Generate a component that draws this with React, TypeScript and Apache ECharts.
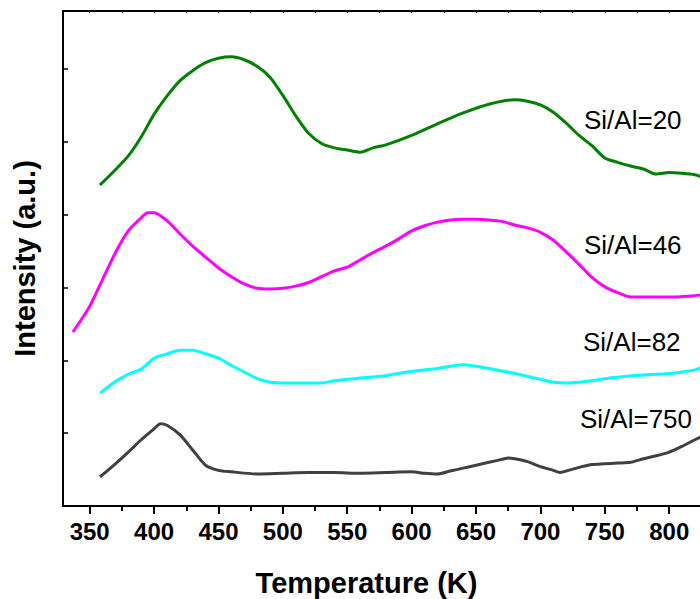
import React, { useEffect, useRef } from "react";
import * as echarts from "echarts";

// Temperature (K) sample points and intensity (a.u.) for each sample
const tempSi20 = [358, 370, 380, 390, 400, 410, 420, 430, 440, 450, 460, 470, 480, 490, 500, 510, 520, 530, 540, 550, 560, 570, 580, 600, 620, 640, 660, 680, 690, 700, 710, 720, 730, 740, 750, 760, 770, 780, 790, 800, 810, 820, 825];
const intSi20 = [4.41, 4.62, 4.81, 5.07, 5.38, 5.63, 5.84, 5.98, 6.09, 6.15, 6.17, 6.13, 6.04, 5.89, 5.64, 5.36, 5.12, 4.98, 4.92, 4.89, 4.86, 4.92, 4.96, 5.09, 5.25, 5.40, 5.52, 5.58, 5.56, 5.51, 5.41, 5.26, 5.09, 4.95, 4.78, 4.72, 4.67, 4.63, 4.56, 4.58, 4.57, 4.55, 4.52];

const tempSi46 = [337, 345, 350, 360, 370, 380, 390, 395, 400, 410, 420, 430, 440, 450, 460, 470, 480, 490, 500, 510, 520, 530, 540, 550, 560, 570, 580, 590, 600, 610, 620, 630, 640, 650, 660, 670, 680, 690, 700, 710, 720, 730, 740, 750, 760, 770, 780, 800, 820, 825];
const intSi46 = [2.39, 2.60, 2.74, 3.11, 3.48, 3.78, 3.96, 4.03, 4.03, 3.92, 3.74, 3.57, 3.42, 3.27, 3.15, 3.05, 2.99, 2.98, 2.99, 3.02, 3.07, 3.15, 3.23, 3.28, 3.38, 3.48, 3.57, 3.67, 3.78, 3.85, 3.90, 3.93, 3.94, 3.94, 3.93, 3.91, 3.86, 3.82, 3.76, 3.65, 3.49, 3.32, 3.14, 3.01, 2.93, 2.87, 2.87, 2.87, 2.89, 2.90];

const tempSi82 = [358, 370, 380, 390, 400, 410, 420, 430, 440, 450, 460, 470, 480, 490, 500, 520, 530, 540, 550, 560, 580, 600, 620, 640, 650, 660, 680, 700, 710, 720, 730, 740, 750, 760, 770, 780, 800, 810, 820, 825];
const intSi82 = [1.55, 1.71, 1.81, 1.88, 2.03, 2.09, 2.14, 2.14, 2.09, 2.03, 1.93, 1.84, 1.75, 1.70, 1.69, 1.69, 1.69, 1.72, 1.74, 1.76, 1.79, 1.85, 1.89, 1.94, 1.92, 1.89, 1.82, 1.74, 1.70, 1.69, 1.70, 1.72, 1.75, 1.77, 1.79, 1.80, 1.82, 1.84, 1.87, 1.90];

const tempSi750 = [358, 370, 380, 390, 400, 405, 410, 420, 430, 440, 450, 460, 480, 500, 520, 540, 560, 580, 600, 610, 620, 630, 640, 650, 660, 670, 675, 680, 690, 700, 710, 715, 720, 730, 740, 750, 760, 770, 780, 790, 800, 810, 820, 825];
const intSi750 = [0.40, 0.58, 0.74, 0.91, 1.06, 1.13, 1.11, 0.98, 0.77, 0.56, 0.49, 0.47, 0.44, 0.45, 0.46, 0.46, 0.45, 0.46, 0.47, 0.45, 0.44, 0.48, 0.52, 0.56, 0.60, 0.64, 0.66, 0.65, 0.61, 0.54, 0.49, 0.46, 0.48, 0.53, 0.57, 0.58, 0.59, 0.60, 0.65, 0.69, 0.74, 0.82, 0.91, 0.95];

const seriesNames = ["Si/Al=20", "Si/Al=46", "Si/Al=82", "Si/Al=750"];
const seriesColors = ["#008000", "#ff00ff", "#00ffff", "#404040"];
const majorTicks = [350, 400, 450, 500, 550, 600, 650, 700, 750, 800];
const minorTicks = [375, 425, 475, 525, 575, 625, 675, 725, 775, 825];
const topTicks = [350, 375, 400, 425, 450, 475, 500, 525, 550, 575, 600, 625, 650, 675, 700, 725, 750, 775, 800];

const FONT = "'Liberation Sans', Arial, sans-serif";

function zip(xs: number[], ys: number[]) {
  return xs.map((x, i) => [x, ys[i]]);
}

export default function App() {
  const ref = useRef<HTMLDivElement>(null);
  useEffect(() => {
    if (!ref.current) return;
    const chart = echarts.init(ref.current, null, { renderer: "svg" });
    const temps = [tempSi20, tempSi46, tempSi82, tempSi750];
    const ints = [intSi20, intSi46, intSi82, intSi750];
    const xMin = 329.3;
    const xMax = 823.9;
    const lineStyle = { color: "#000", width: 2 };
    chart.setOption({
      animation: false,
      backgroundColor: "#fff",
      grid: { left: 63, right: 0, top: 11, bottom: 93 },
      xAxis: [
        {
          type: "value",
          position: "bottom",
          min: xMin,
          max: xMax,
          axisLine: { show: true, lineStyle },
          axisTick: { show: true, inside: false, length: 8, lineStyle: { color: "#000", width: 2 }, customValues: majorTicks },
          axisLabel: {
            show: true,
            customValues: majorTicks,
            margin: 13,
            fontSize: 24,
            fontWeight: "bold",
            color: "#000",
            fontFamily: FONT,
          },
          splitLine: { show: false },
        },
        {
          type: "value",
          position: "bottom",
          min: xMin,
          max: xMax,
          axisLine: { show: false },
          axisTick: { show: true, inside: false, length: 5, lineStyle: { color: "#000", width: 2 }, customValues: minorTicks },
          axisLabel: { show: false },
          splitLine: { show: false },
        },
        {
          type: "value",
          position: "top",
          min: xMin,
          max: xMax,
          axisLine: { show: true, lineStyle },
          axisTick: { show: true, inside: true, length: 2, lineStyle: { color: "#000", width: 1 }, customValues: topTicks },
          axisLabel: { show: false },
          splitLine: { show: false },
        },
      ],
      yAxis: {
        type: "value",
        min: 0,
        max: 6.8,
        interval: 1,
        name: "Intensity (a.u.)",
        nameLocation: "middle",
        nameGap: 24,
        nameTextStyle: { fontSize: 29, fontWeight: "bold", color: "#000", fontFamily: FONT },
        axisLine: { show: true, lineStyle },
        axisTick: { show: true, inside: true, length: 5, lineStyle: { color: "#000", width: 1.5 } },
        axisLabel: { show: false },
        splitLine: { show: false },
      },
      graphic: [
        {
          type: "text",
          x: 366.5,
          y: 583,
          style: {
            text: "Temperature (K)",
            font: `bold 29px ${FONT}`,
            fill: "#000",
            textAlign: "center",
            textVerticalAlign: "middle",
          },
        },
        ...[
          { x: 584, y: 120 },
          { x: 584, y: 245 },
          { x: 583, y: 342 },
          { x: 580, y: 419 },
        ].map((p, i) => ({
          type: "text",
          x: p.x,
          y: p.y,
          style: {
            text: seriesNames[i],
            font: `26px ${FONT}`,
            fill: "#000",
            textAlign: "left",
            textVerticalAlign: "middle",
          },
        })),
      ],
      series: seriesNames.map((name, i) => ({
        name,
        type: "line",
        xAxisIndex: 0,
        data: zip(temps[i], ints[i]),
        showSymbol: false,
        symbol: "none",
        smooth: 0.25,
        lineStyle: { color: seriesColors[i], width: 3 },
        z: 3,
      })),
    });
    return () => chart.dispose();
  }, []);
  return <div ref={ref} style={{ width: 700, height: 599, position: "absolute", left: 0, top: 0 }} />;
}
